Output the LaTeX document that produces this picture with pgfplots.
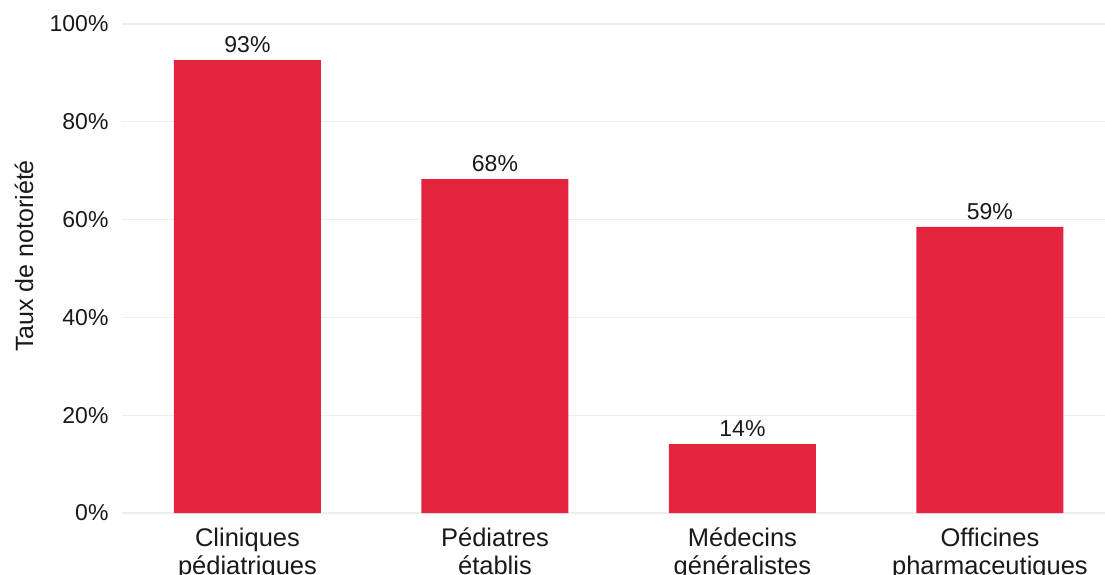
\documentclass[border=0pt]{standalone}
\usepackage{pgfplots}
\pgfplotsset{compat=1.18}
\usepackage{fontspec}
\setmainfont{Liberation Sans}
\definecolor{barred}{HTML}{E4243F}
\definecolor{gridgray}{HTML}{EEEEEE}
\begin{document}
\begin{tikzpicture}[x=1pt,y=1pt]
\begin{axis}[
  at={(122pt,61pt)}, anchor=south west,
  scale only axis,
  width=983pt, height=489pt,
  xmin=0.493, xmax=4.465,
  ymin=0, ymax=100,
  axis line style={draw=none},
  tick style={draw=none},
  ytick={0,20,40,60,80,100},
  yticklabels={0\%,20\%,40\%,60\%,80\%,100\%},
  ymajorgrids,
  grid style={gridgray, line width=1.3pt},
  xtick={1,2,3,4},
  xticklabels={Cliniques\\pédiatriques, Pédiatres\\établis, Médecins\\généralistes, Officines\\pharmaceutiques},
  xticklabel style={align=center, font=\fontsize{25.5}{28}\selectfont, text=black!90},
  yticklabel style={font=\fontsize{23}{26}\selectfont, text=black!90},
  xtick pos=bottom,
  major tick length=0pt,
  every x tick label/.append style={yshift=-11pt},
  every y tick label/.append style={xshift=-10pt},
  ylabel={Taux de notoriété},
  every axis y label/.style={at={(axis description cs:-0.0997,0.5256)}, rotate=90, anchor=center, font=\fontsize{25}{28}\selectfont, text=black!90},
  /pgf/number format/assume math mode=true,
  clip=false,
]
\addplot[ybar, bar width=147pt, fill=barred, draw=none,
  point meta=explicit symbolic,
  nodes near coords={\pgfplotspointmeta\%},
  every node near coord/.append style={font=\fontsize{23}{26}\selectfont, text=black!90, anchor=south, yshift=4pt}]
  coordinates {(1,92.6) [93] (2,68.3) [68] (3,14.1) [14] (4,58.5) [59]};
\end{axis}
\pgfresetboundingbox
\path[use as bounding box] (0,0) rectangle (1105pt,574pt);
\end{tikzpicture}
\end{document}
